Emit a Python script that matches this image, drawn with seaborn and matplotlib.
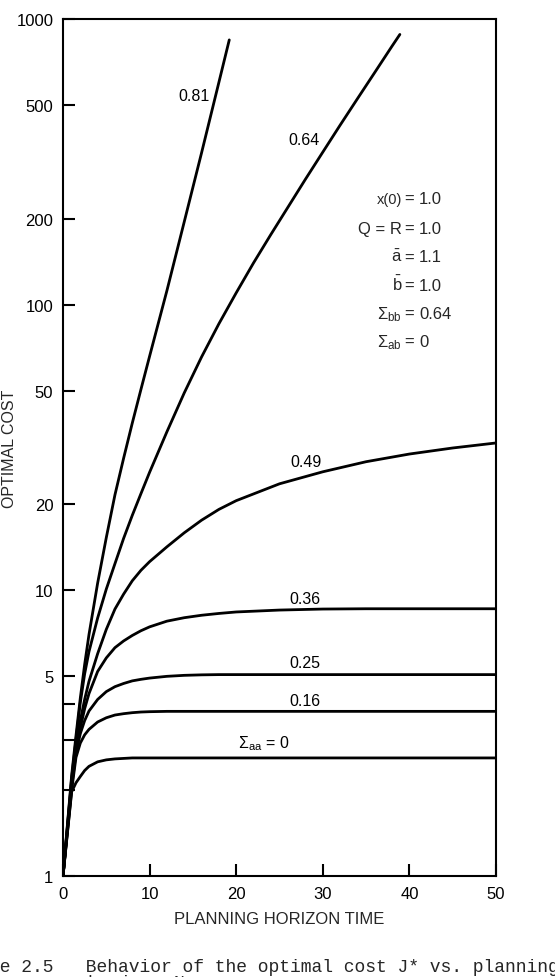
import numpy as np
import pandas as pd
import matplotlib
matplotlib.use("Agg")
import matplotlib.pyplot as plt
from matplotlib.ticker import FixedLocator, NullLocator
import seaborn as sns

# planning horizon (x) and optimal cost J* (y)
t_flat = [0, 1, 1.5, 2, 2.5, 3, 4, 5, 6, 7, 8, 9, 10, 12, 14, 16, 18, 20, 25, 30, 35, 40, 45, 50]
cost_000 = [1, 1.97, 2.12, 2.23, 2.34, 2.42, 2.51, 2.55, 2.57, 2.58, 2.59, 2.59, 2.59, 2.59,
            2.59, 2.59, 2.59, 2.59, 2.59, 2.59, 2.59, 2.59, 2.59, 2.59]
cost_016 = [1, 2.0, 2.6, 2.92, 3.12, 3.26, 3.46, 3.58, 3.66, 3.70, 3.73, 3.75, 3.76, 3.77,
            3.77, 3.77, 3.77, 3.77, 3.77, 3.77, 3.77, 3.77, 3.77, 3.77]
cost_025 = [1, 2.05, 2.7, 3.15, 3.5, 3.78, 4.15, 4.42, 4.6, 4.72, 4.82, 4.88, 4.93, 5.0,
            5.04, 5.06, 5.07, 5.07, 5.07, 5.07, 5.07, 5.07, 5.07, 5.07]
cost_036 = [1, 2.1, 2.75, 3.3, 3.85, 4.35, 5.2, 5.8, 6.3, 6.65, 6.95, 7.22, 7.45, 7.8,
            8.02, 8.18, 8.3, 8.4, 8.53, 8.6, 8.62, 8.62, 8.62, 8.62]
cost_049 = [1, 2.15, 2.85, 3.5, 4.15, 4.8, 6.0, 7.3, 8.6, 9.7, 10.8, 11.75, 12.6, 14.2,
            15.9, 17.6, 19.2, 20.6, 23.6, 26.0, 28.2, 30.0, 31.5, 32.8]

t_064 = [0, 1, 1.5, 2, 2.5, 3, 4, 5, 6, 7, 8, 9, 10, 12, 14, 16, 18, 20, 22, 24, 26, 28,
         30, 32, 34, 36, 38, 38.9]
cost_064 = [1, 2.2, 3.0, 4.05, 5.1, 6.1, 8.0, 10.1, 12.4, 15.2, 18.3, 21.8, 25.9, 35.9,
            49.1, 65.6, 85.7, 110, 140, 176, 220, 275, 342, 425, 526, 650, 804, 883]

t_081 = [0, 1, 1.5, 2, 2.5, 3, 4, 5, 6, 7, 8, 9, 10, 12, 14, 16, 18, 19.2]
cost_081 = [1, 2.25, 3.1, 4.2, 5.5, 7.0, 10.6, 15.3, 21.6, 29.0, 38.5, 50.5, 66, 112,
            195, 340, 600, 845]

y_ticks = [1, 2, 3, 4, 5, 10, 20, 50, 100, 200, 500, 1000]
y_ticklabels = ["1", "", "", "", "5", "10", "20", "50", "100", "200", "500", "1000"]
x_ticks = [0, 10, 20, 30, 40, 50]

curves = [
    (t_flat, cost_000), (t_flat, cost_016), (t_flat, cost_025),
    (t_flat, cost_036), (t_flat, cost_049), (t_064, cost_064), (t_081, cost_081),
]

sns.set_theme(style="ticks")
plt.rcParams["font.family"] = ["Liberation Sans", "DejaVu Sans"]
plt.rcParams["mathtext.fontset"] = "custom"
plt.rcParams["mathtext.rm"] = "Liberation Sans"
plt.rcParams["mathtext.it"] = "Liberation Sans"
plt.rcParams["mathtext.bf"] = "Liberation Sans:bold"

fig = plt.figure(figsize=(5.55, 9.78), dpi=100)
ax = fig.add_axes([63 / 555, 1 - 877 / 978, 433 / 555, 857 / 978])

for t, c in curves:
    df = pd.DataFrame({"t": t, "cost": c})
    sns.lineplot(data=df, x="t", y="cost", ax=ax, color="black", lw=2.0,
                 estimator=None, sort=False)

ax.set_yscale("log")
ax.set_xlim(0, 50)
ax.set_ylim(1, 1000)
ax.yaxis.set_major_locator(FixedLocator(y_ticks))
ax.yaxis.set_minor_locator(NullLocator())
ax.set_yticklabels(y_ticklabels)
ax.set_xticks(x_ticks)
ax.set_xticklabels([str(v) for v in x_ticks])

for s in ax.spines.values():
    s.set_linewidth(1.5)
    s.set_color("black")
ax.tick_params(direction="in", length=8.5, width=1.5, labelsize=12, pad=7, colors="black")

ax.set_xlabel("PLANNING HORIZON TIME", fontsize=12)
ax.set_ylabel("OPTIMAL COST", fontsize=11.5, va="center")
ax.xaxis.set_label_coords(0.5, -0.041)
ax.yaxis.set_label_coords(-0.1247, 0.5)

# curve labels
lab_kw = dict(fontsize=11.5, va="baseline", ha="left", color="black")
ax.text(13.3, 521, "0.81", **lab_kw)
ax.text(26.0, 366, "0.64", **lab_kw)
ax.text(26.2, 27.2, "0.49", **lab_kw)
ax.text(26.1, 9.0, "0.36", **lab_kw)
ax.text(26.1, 5.37, "0.25", **lab_kw)
ax.text(26.1, 3.96, "0.16", **lab_kw)
ax.text(20.25, 2.83, r"$\Sigma_{\mathrm{aa}}$ = 0", **lab_kw)

# parameter block
params = [
    ("x(0)", "1.0", 226.8),
    ("Q = R", "1.0", 178.1),
    (r"$\bar{\mathrm{a}}$", "1.1", 141.7),
    (r"$\bar{\mathrm{b}}$", "1.0", 112.8),
    (r"$\Sigma_{\mathrm{bb}}$", "0.64", 89.8),
    (r"$\Sigma_{\mathrm{ab}}$", "0", 71.5),
]
for left, val, yy in params:
    fs = 10.5 if left == "x(0)" else 12
    ax.text(39.15, yy, left, fontsize=fs, ha="right", va="baseline")
    ax.text(39.95, yy, "=", fontsize=12, ha="center", va="baseline")
    ax.text(41.1, yy, val, fontsize=12, ha="left", va="baseline")

# caption, cut by the page edge as in the scan
fig.text(-53.7 / 555, 1 - 972 / 978, "Figure 2.5   Behavior of the optimal cost J* vs. planning",
         family="Liberation Mono", fontsize=13, va="baseline", ha="left")
fig.text(88 / 555, 1 - 988 / 978, "horizon N.",
         family="Liberation Mono", fontsize=13, va="baseline", ha="left")

fig.savefig("out.png", dpi=100)
